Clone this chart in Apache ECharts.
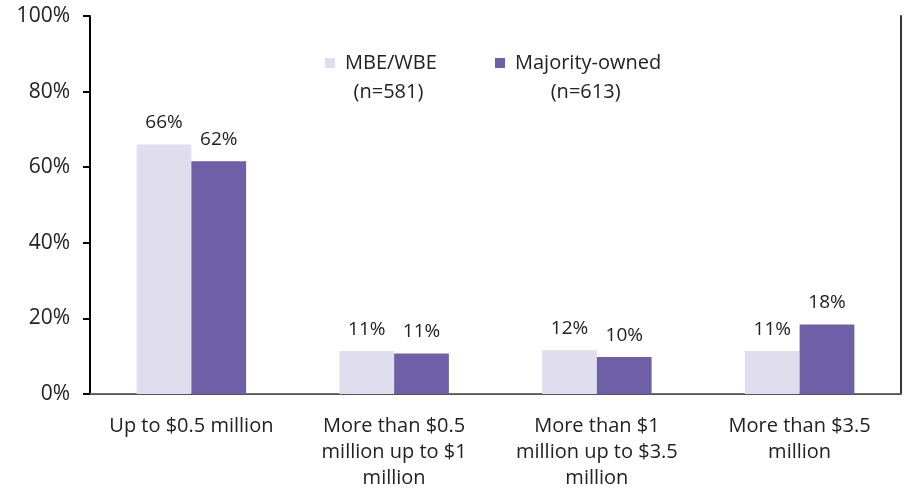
<!DOCTYPE html>
<html>
<head>
<meta charset="utf-8">
<script src="https://cdn.jsdelivr.net/npm/echarts@6/dist/echarts.min.js"></script>
<style>
html,body{margin:0;padding:0;background:#fff;}
#chart{width:905px;height:493px;}
</style>
</head>
<body>
<div id="chart"></div>
<script>
const categories = [
  'Up to $0.5 million',
  'More than $0.5\nmillion up to $1\nmillion',
  'More than $1\nmillion up to $3.5\nmillion',
  'More than $3.5\nmillion'
];
const seriesNames = ['MBE/WBE', 'Majority-owned'];
const sampleSizes = ['(n=581)', '(n=613)'];
const mbeValues = [66, 11.4, 11.6, 11.4];
const majorityValues = [61.6, 10.7, 9.8, 18.4];
const yTicks = [0, 20, 40, 60, 80, 100];

const FONT = 'Open Sans';
const TXT = '#222222';
const colors = ['#E0DEEE', '#6E5FA7'];

const chart = echarts.init(document.getElementById('chart'), null, {renderer: 'canvas'});

function legendFor(i, left) {
  return {
    data: [seriesNames[i]],
    left: left,
    top: 24,
    padding: 0,
    itemWidth: 10,
    itemHeight: 10,
    icon: 'rect',
    selectedMode: false,
    formatter: function (name) {
      return '{e| }\n{a|' + name + '}\n{n|' + sampleSizes[i] + '}';
    },
    textStyle: {
      fontFamily: FONT,
      color: TXT,
      rich: {
        e: {fontSize: 20, lineHeight: 29, fontFamily: FONT},
        a: {fontSize: 20, lineHeight: 29, fontFamily: FONT, color: TXT, padding: [0, 0, 0, 5]},
        n: {fontSize: 20, lineHeight: 29, fontFamily: FONT, color: TXT, align: 'center'}
      }
    }
  };
}

function labelCfg() {
  return {
    show: true,
    position: 'top',
    distance: 12,
    fontFamily: FONT,
    fontSize: 19,
    color: TXT,
    formatter: function (p) { return Math.round(p.value) + '%'; }
  };
}

chart.setOption({
  animation: false,
  backgroundColor: '#ffffff',
  color: colors,
  legend: [legendFor(0, 325), legendFor(1, 495)],
  grid: {left: 90, right: 4, top: 16, bottom: 99, containLabel: false},
  xAxis: [
    {
      type: 'category',
      data: categories,
      position: 'bottom',
      axisLine: {show: true, lineStyle: {color: '#6F6F6F', width: 2}},
      axisTick: {show: false},
      axisLabel: {
        interval: 0,
        margin: 19,
        fontFamily: FONT,
        fontSize: 20,
        lineHeight: 26,
        color: TXT
      }
    },
    {
      type: 'category',
      data: categories,
      position: 'top',
      axisLine: {show: true, lineStyle: {color: '#555555', width: 1}},
      axisTick: {show: false},
      axisLabel: {show: false}
    }
  ],
  yAxis: [
    {
      type: 'value',
      min: yTicks[0],
      max: yTicks[yTicks.length - 1],
      interval: yTicks[1] - yTicks[0],
      position: 'left',
      axisLine: {show: true, lineStyle: {color: '#000000', width: 2}},
      axisTick: {show: true, length: 7, lineStyle: {color: '#000000', width: 2}},
      splitLine: {show: false},
      axisLabel: {
        formatter: '{value}%',
        margin: 20,
        fontFamily: FONT,
        fontSize: 21,
        color: TXT
      }
    },
    {
      type: 'value',
      min: yTicks[0],
      max: yTicks[yTicks.length - 1],
      interval: yTicks[1] - yTicks[0],
      position: 'right',
      axisLine: {show: true, lineStyle: {color: '#333333', width: 2}},
      axisTick: {show: false},
      splitLine: {show: false},
      axisLabel: {show: false}
    }
  ],
  series: [
    {
      name: seriesNames[0],
      type: 'bar',
      xAxisIndex: 0,
      yAxisIndex: 0,
      data: mbeValues,
      barGap: '0%',
      barCategoryGap: '46%',
      itemStyle: {color: colors[0]},
      label: labelCfg()
    },
    {
      name: seriesNames[1],
      type: 'bar',
      xAxisIndex: 0,
      yAxisIndex: 0,
      data: majorityValues,
      barGap: '0%',
      barCategoryGap: '46%',
      itemStyle: {color: colors[1]},
      label: labelCfg()
    }
  ]
});
</script>
</body>
</html>
